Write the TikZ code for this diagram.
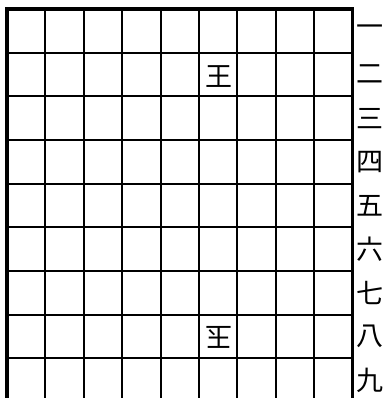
\documentclass[tikz,border=0pt]{standalone}
\usepackage{fontspec}
\newfontfamily\cjk{Noto Sans CJK JP}
\begin{document}
\begin{tikzpicture}[x=1pt,y=-1pt,
  gridline/.style={line width=2pt,black},
  frame/.style={line width=3.2pt,black},
  piece/.style={font=\cjk\fontsize{27}{27}\selectfont,inner sep=0pt},
  rank/.style={font=\cjk\fontsize{27}{27}\selectfont,inner sep=0pt}]
\useasboundingbox (0,0) rectangle (387,398);
\clip (0,0) rectangle (387,398);
\fill[white] (0,0) rectangle (387,398);
\foreach \i in {1,...,8} {
  \draw[gridline] ({7+\i*38.4},9) -- ({7+\i*38.4},410);
  \draw[gridline] (7,{9+\i*43.66}) -- (352.6,{9+\i*43.66});
}
\draw[frame] (7,420) -- (7,9) -- (352.6,9) -- (352.6,420);
\node[piece] (ou) at (218.5,76.5) {王};
\node[piece,rotate=180] (gyoku) at (218.5,337.5) {玉};
\foreach \k/\t in {1/一,2/二,3/三,4/四,5/五,6/六,7/七,8/八,9/九} {
  \node[rank] (r\k) at (370,{9+(\k-0.5)*43.66}) {\t};
}
\end{tikzpicture}
\end{document}
